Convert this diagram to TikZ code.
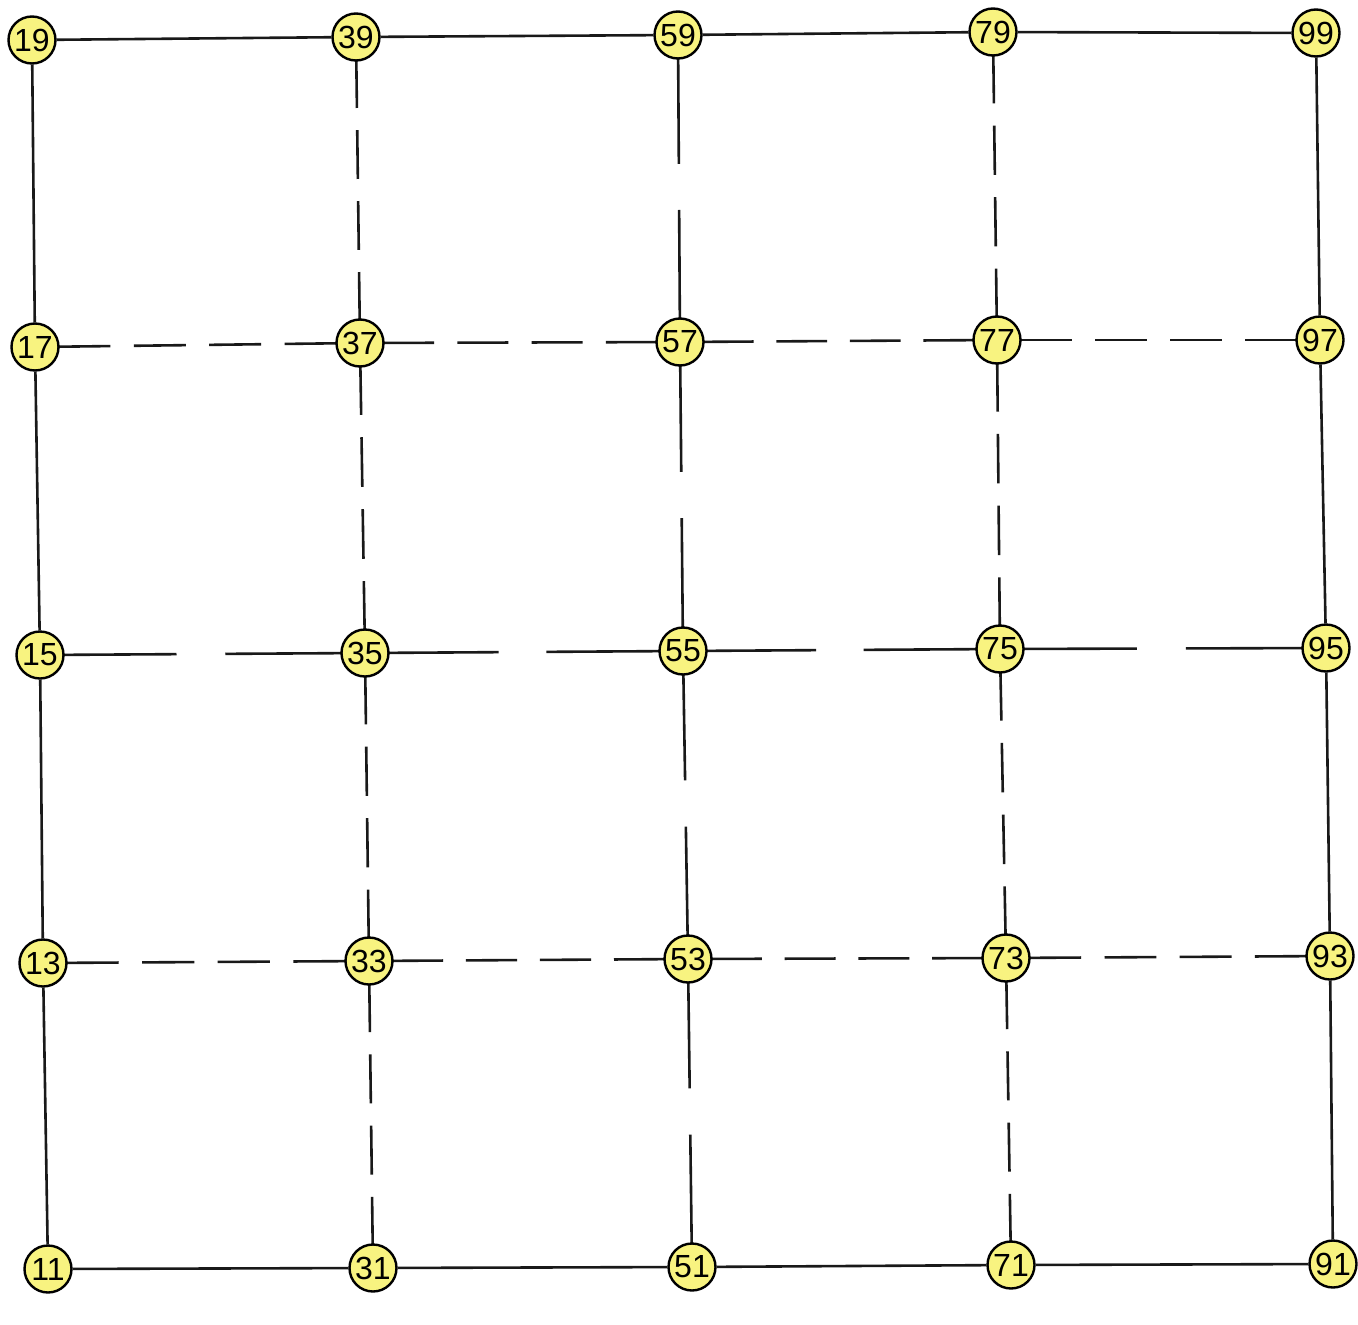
\documentclass[tikz,border=0pt]{standalone}
\usepackage{fontspec}
\setmainfont{Liberation Sans}
\usetikzlibrary{calc,backgrounds}
\definecolor{nodefill}{RGB}{248,243,128}
\newcommand\mydashedge[2]{\draw[edge] (#1.center) -- ($(#1)!0.232!(#2)$) ($(#1)!0.304!(#2)$) -- ($(#1)!0.464!(#2)$) ($(#1)!0.536!(#2)$) -- ($(#1)!0.696!(#2)$) ($(#1)!0.768!(#2)$) -- (#2.center);}
\newcommand\mygapedge[2]{\draw[edge] (#1.center) -- ($(#1)!0.42!(#2)$) ($(#1)!0.57!(#2)$) -- (#2.center);}
\begin{document}
\begin{tikzpicture}[x=1pt,y=-1pt,
  vtx/.style={circle,draw,line width=2.4pt,fill=nodefill,minimum size=47pt,inner sep=0pt,font=\fontsize{32}{32}\selectfont},
  edge/.style={line width=2.6pt,black!90}]
\useasboundingbox (0,0) rectangle (1358,1325);
% row 9
\node[vtx] (n19) at (32,40) {19};
\node[vtx] (n39) at (356,37) {39};
\node[vtx] (n59) at (678,35) {59};
\node[vtx] (n79) at (993,32) {79};
\node[vtx] (n99) at (1316,33) {99};
% row 7
\node[vtx] (n17) at (35,347) {17};
\node[vtx] (n37) at (360,343) {37};
\node[vtx] (n57) at (680,342) {57};
\node[vtx] (n77) at (997,340) {77};
\node[vtx] (n97) at (1320,340) {97};
% row 5
\node[vtx] (n15) at (40,655) {15};
\node[vtx] (n35) at (365,653) {35};
\node[vtx] (n55) at (683,651) {55};
\node[vtx] (n75) at (1000,649) {75};
\node[vtx] (n95) at (1326,648) {95};
% row 3
\node[vtx] (n13) at (43,963) {13};
\node[vtx] (n33) at (369,961) {33};
\node[vtx] (n53) at (688,959) {53};
\node[vtx] (n73) at (1006,958) {73};
\node[vtx] (n93) at (1330,956) {93};
% row 1
\node[vtx] (n11) at (48,1269) {11};
\node[vtx] (n31) at (373,1268) {31};
\node[vtx] (n51) at (692,1267) {51};
\node[vtx] (n71) at (1011,1265) {71};
\node[vtx] (n91) at (1333,1264) {91};
\begin{scope}[on background layer]
\fill[white] (0,0) rectangle (1358,1325);
% outer border, solid
\draw[edge] (n19) -- (n39); \draw[edge] (n39) -- (n59); \draw[edge] (n59) -- (n79); \draw[edge] (n79) -- (n99);
\draw[edge] (n11) -- (n31); \draw[edge] (n31) -- (n51); \draw[edge] (n51) -- (n71); \draw[edge] (n71) -- (n91);
\draw[edge] (n19) -- (n17); \draw[edge] (n17) -- (n15); \draw[edge] (n15) -- (n13); \draw[edge] (n13) -- (n11);
\draw[edge] (n99) -- (n97); \draw[edge] (n97) -- (n95); \draw[edge] (n95) -- (n93); \draw[edge] (n93) -- (n91);
% rows 7 and 3, dashed
\mydashedge{n17}{n37} \mydashedge{n37}{n57} \mydashedge{n57}{n77} \mydashedge{n77}{n97}
\mydashedge{n13}{n33} \mydashedge{n33}{n53} \mydashedge{n53}{n73} \mydashedge{n73}{n93}
% columns 3 and 7, dashed
\mydashedge{n39}{n37} \mydashedge{n37}{n35} \mydashedge{n35}{n33} \mydashedge{n33}{n31}
\mydashedge{n79}{n77} \mydashedge{n77}{n75} \mydashedge{n75}{n73} \mydashedge{n73}{n71}
% row 5 and column 5, one gap
\mygapedge{n15}{n35} \mygapedge{n35}{n55} \mygapedge{n55}{n75} \mygapedge{n75}{n95}
\mygapedge{n59}{n57} \mygapedge{n57}{n55} \mygapedge{n55}{n53} \mygapedge{n53}{n51}
\end{scope}
\end{tikzpicture}
\end{document}
